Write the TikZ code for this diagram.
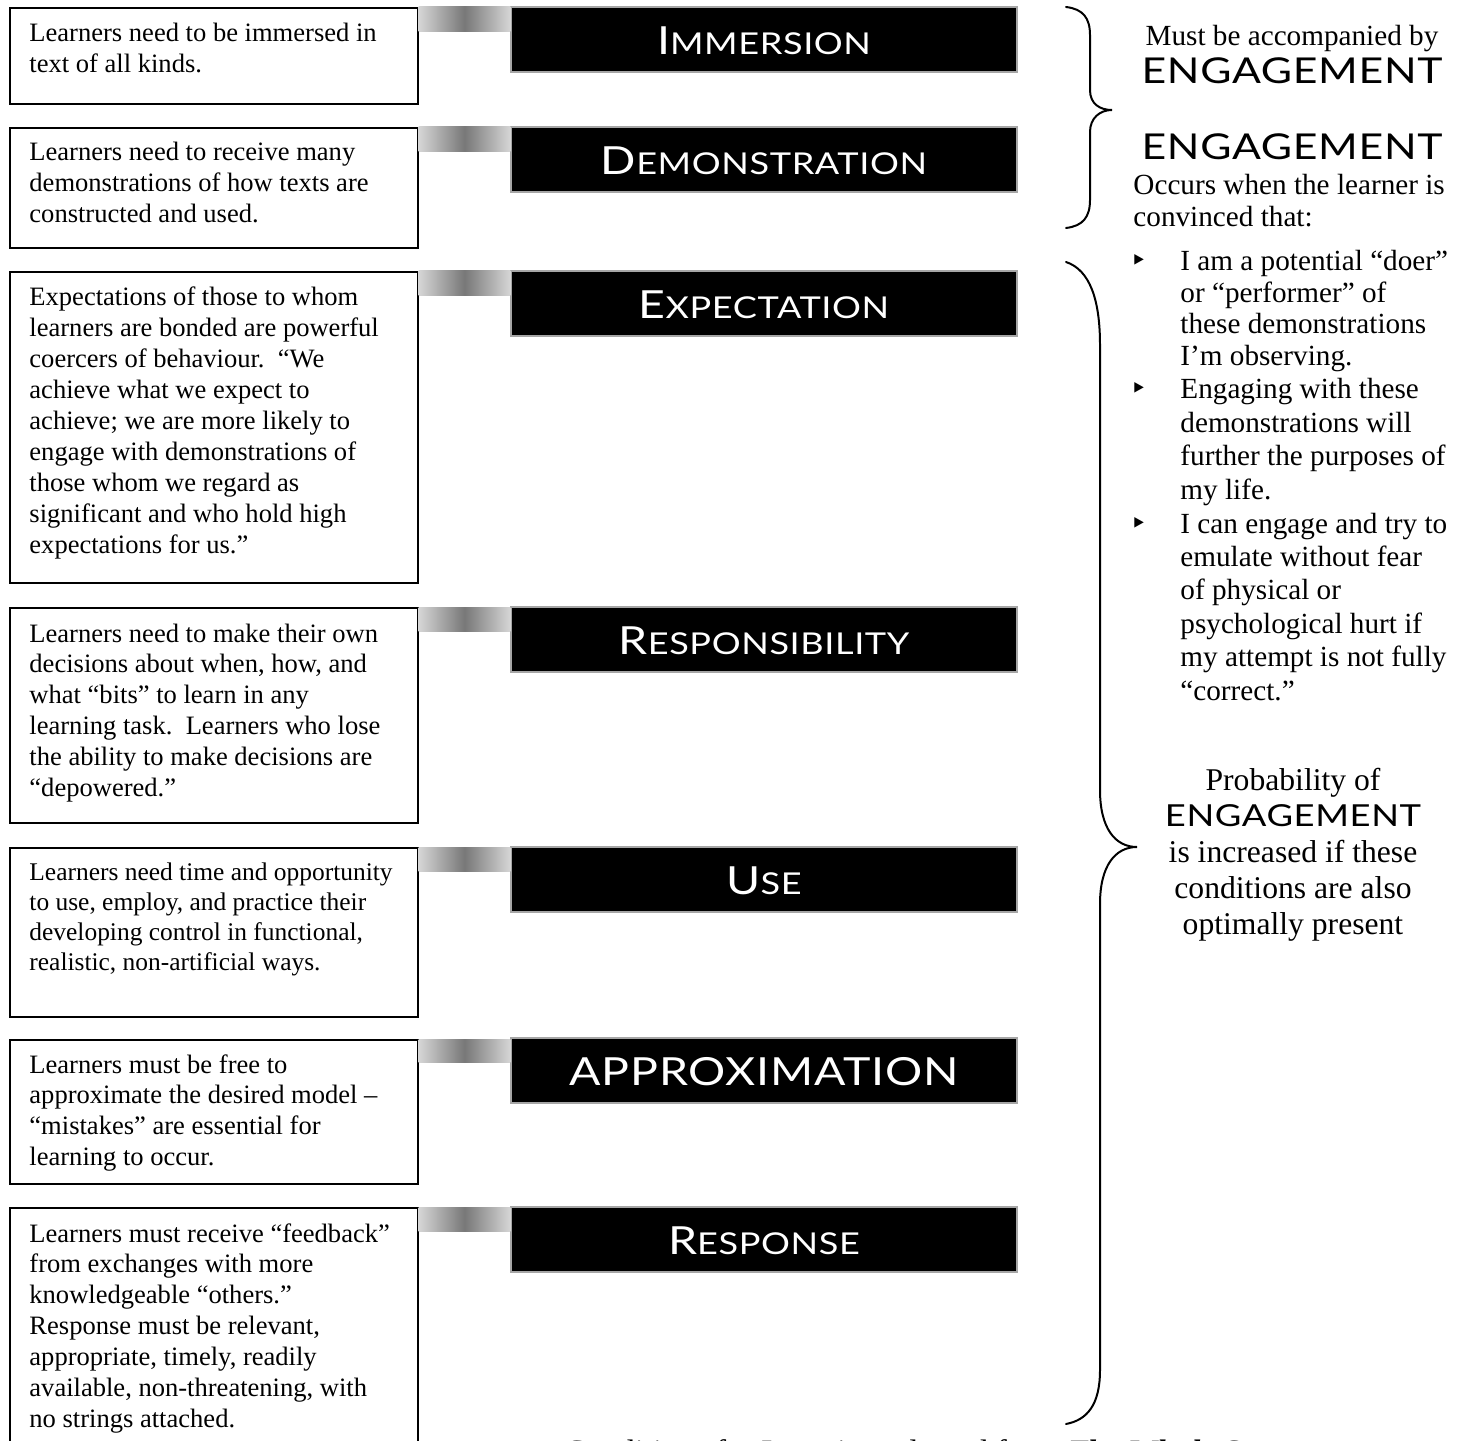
\documentclass[tikz,border=0pt]{standalone}
\usepackage{fontspec}
\setmainfont{Liberation Serif}
\newfontfamily\cpfont[FakeStretch=1.2,LetterSpace=2]{Lato}
\newfontfamily\symfont{DejaVu Sans}
\definecolor{gl}{gray}{0.84}
\definecolor{gd}{gray}{0.47}
\newcommand\hdcap[2]{{\fontsize{17.5}{20}\selectfont #1}{\fontsize{13.6}{16}\selectfont #2}}
\tikzset{
  leftbox/.style={draw=black, line width=0.75pt, minimum width=184.4pt, inner sep=0pt, anchor=north west},
  boxtext/.style={anchor=base west, inner sep=0pt, text width=182pt, align=flush left, font=\fontsize{12}{14}\selectfont},
  headbox/.style={fill=black, draw=gray!70, line width=0.5pt, minimum width=228.7pt, minimum height=29.4pt, inner sep=0pt, text=white, text height=14pt, text depth=0pt, font=\cpfont},
  grad/.style={left color=gl, right color=gl, middle color=gd},
  bracepath/.style={line width=0.9pt, line cap=round},
  rtext/.style={inner sep=0pt, anchor=base, align=flush center, text width=160pt, font=\fontsize{13.2}{15}\selectfont},
  engtext/.style={inner sep=0pt, anchor=base, font=\cpfont\fontsize{16.1}{19}\selectfont},
  itemtext/.style={inner sep=0pt, anchor=base west, align=flush left, text width=140pt, font=\fontsize{13.2}{15.1}\selectfont},
  bul/.style={inner sep=0pt, anchor=base, font=\symfont\fontsize{13}{14}\selectfont},
}
\begin{document}
\begin{tikzpicture}[x=0.452pt,y=-0.452pt]
\useasboundingbox (0,0) rectangle (1465,1441);

% left boxes
\node[leftbox, minimum height=43.4pt] (b1) at (9,7) {};
\node[leftbox, minimum height=54.2pt] (b2) at (9,127) {};
\node[leftbox, minimum height=140.6pt] (b3) at (9,271) {};
\node[leftbox, minimum height=97.2pt] (b4) at (9,607) {};
\node[leftbox, minimum height=76.4pt] (b5) at (9,847) {};
\node[leftbox, minimum height=65.1pt] (b6) at (9,1039) {};
\node[leftbox, minimum height=120pt] (b7) at (9,1207) {};

% heading boxes
\node[headbox] (h1) at (764,39.5) {\hdcap{I}{MMERSION}};
\node[headbox] (h2) at (764,159.5) {\hdcap{D}{EMONSTRATION}};
\node[headbox] (h3) at (764,303.5) {\hdcap{E}{XPECTATION}};
\node[headbox] (h4) at (764,639.5) {\hdcap{R}{ESPONSIBILITY}};
\node[headbox] (h5) at (764,879.5) {\hdcap{U}{SE}};
\node[headbox] (h6) at (764,1070.5) {\fontsize{17.5}{20}\selectfont APPROXIMATION};
\node[headbox] (h7) at (764,1239.5) {\hdcap{R}{ESPONSE}};

% gradient bars
\foreach \i in {1,...,7}{
  \shade[grad] (b\i.north east) rectangle ([yshift=-11.3pt]h\i.north west);
}

% box texts
\node[boxtext] (t1) at (29,42) {Learners need to be immersed in\\text of all kinds.};
\node[boxtext] (t2) at (29,161) {Learners need to receive many\\demonstrations of how texts are\\constructed and used.};
\node[boxtext] (t3) at (29,306) {Expectations of those to whom\\learners are bonded are powerful\\coercers of behaviour.\ \ “We\\achieve what we expect to\\achieve; we are more likely to\\engage with demonstrations of\\those whom we regard as\\significant and who hold high\\expectations for us.”};
\node[boxtext] (t4) at (29,642) {Learners need to make their own\\decisions about when, how, and\\what “bits” to learn in any\\learning task.\ \ Learners who lose\\the ability to make decisions are\\“depowered.”};
\node[boxtext, font=\fontsize{11.5}{13.7}\selectfont] (t5) at (29,880) {Learners need time and opportunity\\to use, employ, and practice their\\developing control in functional,\\realistic, non-artificial ways.};
\node[boxtext] (t6) at (29,1073) {Learners must be free to\\approximate the desired model –\\“mistakes” are essential for\\learning to occur.};
\node[boxtext] (t7) at (29,1242) {Learners must receive “feedback”\\from exchanges with more\\knowledgeable “others.”\\Response must be relevant,\\appropriate, timely, readily\\available, non-threatening, with\\no strings attached.};

% braces
\draw[bracepath] (1066,7) .. controls (1083,9) and (1090,18) .. (1090,35)
  -- (1090,90) .. controls (1090,104) and (1100,110) .. (1112,110)
  .. controls (1100,110) and (1090,118) .. (1090,132)
  -- (1090,200) .. controls (1090,217) and (1083,226) .. (1066,228);
\draw[bracepath] (1066,262) .. controls (1090,270) and (1100,300) .. (1100,345)
  -- (1100,790) .. controls (1100,828) and (1115,847) .. (1137,847)
  .. controls (1115,847) and (1100,866) .. (1100,904)
  -- (1100,1370) .. controls (1100,1405) and (1087,1420) .. (1066,1424);

% right column
\node[rtext] (must) at (1292,46) {Must be accompanied by};
\node[engtext] (eng1) at (1292,84) {ENGAGEMENT};
\node[engtext] (eng2) at (1292,160) {ENGAGEMENT};
\node[itemtext, text width=160pt, font=\fontsize{13.2}{14.2}\selectfont] (occ) at (1133,195) {Occurs when the learner is\\convinced that:};
\node[bul] (u1) at (1139,271) {‣};
\node[itemtext, font=\fontsize{13.2}{14.2}\selectfont] (i1) at (1180,271) {I am a potential “doer”\\or “performer” of\\these demonstrations\\I’m observing.};
\node[bul] (u2) at (1139,399) {‣};
\node[itemtext] (i2) at (1180,399) {Engaging with these\\demonstrations will\\further the purposes of\\my life.};
\node[bul] (u3) at (1139,533) {‣};
\node[itemtext] (i3) at (1180,533) {I can engage and try to\\emulate without fear\\of physical or\\psychological hurt if\\my attempt is not fully\\“correct.”};

\node[rtext, font=\fontsize{14.3}{16.3}\selectfont] (prob) at (1293,790) {Probability of\\{\cpfont\fontsize{13.7}{16}\selectfont ENGAGEMENT}\\is increased if these\\conditions are also\\optimally present};

% caption (cut by the page edge)
\node[inner sep=0pt, anchor=base west, font=\fontsize{14.7}{17}\selectfont] (cap) at (564,1462) {Conditions for Learning adapted from \textbf{\textit{The Whole Story}}};
\end{tikzpicture}
\end{document}
